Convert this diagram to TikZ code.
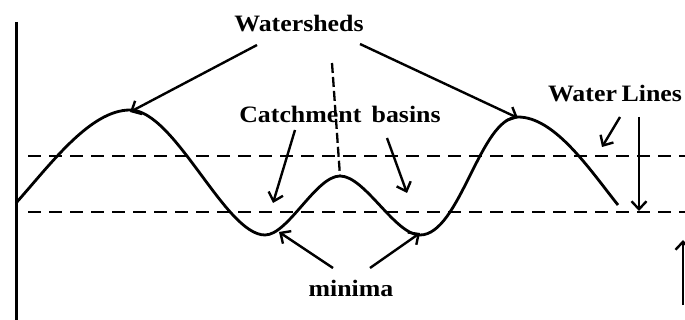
\documentclass[tikz,border=0pt]{standalone}
\usepackage{fontspec}
\setmainfont{Liberation Serif}
\usetikzlibrary{arrows.meta}

\begin{document}
\begin{tikzpicture}[x=1pt, y=-1pt,
  lbl/.style={font=\fontsize{23.5}{28}\selectfont\bfseries, inner sep=0pt, anchor=base, xscale=1.1},
  arrow/.style={-{Straight Barb[length=8pt,width=15pt]}, line width=2.4pt},
  level/.style={dash pattern=on 13pt off 8pt, line width=2.3pt}
]
\useasboundingbox (0,0) rectangle (685,320);

% axis
\coordinate (axtop) at (16,22);
\coordinate (axbot) at (16,320);
\draw[line width=3pt] (axtop) -- (axbot);

% water levels
\coordinate (hiL) at (28,156);
\coordinate (hiR) at (685,156);
\coordinate (loL) at (28,212);
\coordinate (loR) at (685,212);
\draw[level] (hiL) -- (hiR);
\draw[level] (loL) -- (loR);

% relief
\coordinate (start) at (16,203);
\coordinate (peakL) at (130,110);
\coordinate (minL) at (265,235);
\coordinate (peakM) at (340,176);
\coordinate (minR) at (420,235);
\coordinate (peakR) at (518,117);
\coordinate (stop) at (618,205);
\draw[line width=2.8pt, line join=round]
  (start) .. controls (50,165) and (90,110) .. (peakL)
          .. controls (175,110) and (225,235) .. (minL)
          .. controls (288,235) and (316,176) .. (peakM)
          .. controls (365,176) and (395,235) .. (minR)
          .. controls (460,235) and (480,117) .. (peakR)
          .. controls (555,117) and (590,170) .. (stop);

% dam line
\coordinate (damtop) at (332,63);
\draw[level, dash pattern=on 10pt off 4pt] (damtop) -- (peakM);

% labels
\node[lbl] (ws) at (299,32) {Watersheds};
\node[lbl] (cb) at (340,123) {Catchment\hspace{0.4em}basins};
\node[lbl] (wl) at (615,102) {Water\hspace{0.18em}Lines};
\node[lbl] (mn) at (351,296) {minima};

% arrow ends
\coordinate (wsA) at (257,45);
\coordinate (wsB) at (360,44);
\coordinate (cbA) at (295,130);
\coordinate (cbB) at (387,138);
\coordinate (cbAt) at (273,203);
\coordinate (cbBt) at (407,193);
\coordinate (wlA) at (620,117);
\coordinate (wlAt) at (602,147);
\coordinate (wlB) at (639,117);
\coordinate (wlBt) at (639,211);
\coordinate (mnA) at (333,268);
\coordinate (mnB) at (370,268);
\coordinate (upA) at (683,305);
\coordinate (upB) at (683,240);

\draw[arrow] (wsA) -- ([yshift=-2pt]peakL);
\draw[arrow] (wsB) -- ([yshift=-1pt]peakR);
\draw[arrow] (cbA) -- (cbAt);
\draw[arrow] (cbB) -- (cbBt);
\draw[arrow] (wlA) -- (wlAt);
\draw[arrow] (wlB) -- (wlBt);
\draw[arrow] (mnA) -- ([xshift=14pt,yshift=3pt]minL);
\draw[arrow] (mnB) -- ([yshift=2pt]minR);
\draw[arrow] (upA) -- (upB);
\end{tikzpicture}
\end{document}
